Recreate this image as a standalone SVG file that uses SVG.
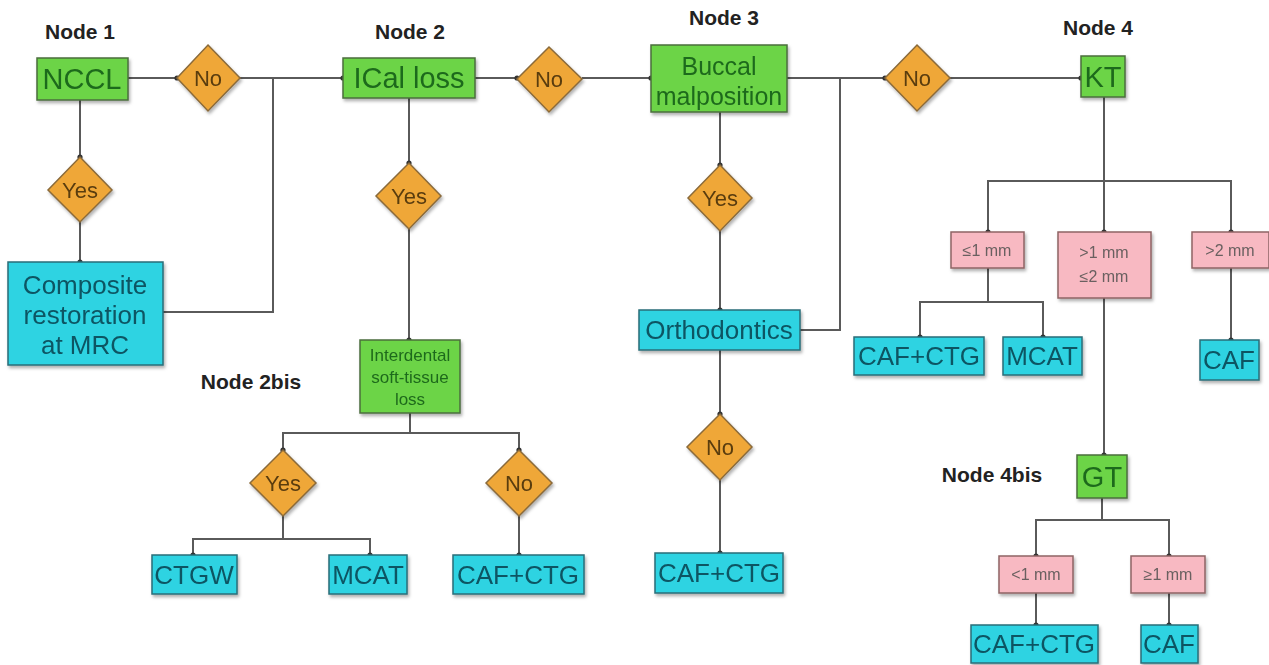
<svg xmlns="http://www.w3.org/2000/svg" width="1269" height="665" viewBox="0 0 1269 665">
<defs>
<style>
.g{fill:#6CD447;stroke:#4B6E3C;stroke-width:1.5}
.o{fill:#EFA738;stroke:#8A6A3A;stroke-width:1.5}
.c{fill:#2DD3E2;stroke:#2A6E78;stroke-width:1.5}
.p{fill:#F8B9C2;stroke:#8E6464;stroke-width:1.5}
.tg{fill:#1F6A1C;font-family:"Liberation Sans",Arial,sans-serif;text-anchor:middle}
.to{fill:#5A3D10;font-family:"Liberation Sans",Arial,sans-serif;font-size:22px;text-anchor:middle}
.tc{fill:#0E5563;font-family:"Liberation Sans",Arial,sans-serif;font-size:26px;text-anchor:middle}
.tp{fill:#6A6060;font-family:"Liberation Sans",Arial,sans-serif;font-size:16px;text-anchor:middle}
.lbl{fill:#222;font-family:"Liberation Sans",Arial,sans-serif;font-size:21px;font-weight:bold;text-anchor:middle}
.ln{fill:none;stroke:#5A5A5A;stroke-width:2;marker-end:url(#dot)}
.ln0{fill:none;stroke:#5A5A5A;stroke-width:2}
.sh{filter:url(#shadow)}
</style>
<marker id="dot" viewBox="0 0 6 6" refX="3" refY="3" markerWidth="3" markerHeight="3" markerUnits="strokeWidth"><circle cx="3" cy="3" r="2.6" fill="#333"/></marker>
<filter id="shadow" x="-10%" y="-10%" width="125%" height="130%"><feDropShadow dx="1.5" dy="2.5" stdDeviation="1.5" flood-color="#000" flood-opacity="0.3"/></filter>
</defs>
<rect width="1269" height="665" fill="#fff"/>

<g id="connectors">
<path class="ln" d="M128 78 H177"/>
<path class="ln" d="M240 78 H343"/>
<path class="ln0" d="M273 78 V312 H163"/>
<path class="ln" d="M80 100 V157"/>
<path class="ln" d="M80 222 V262"/>
<path class="ln" d="M475 78 H517"/>
<path class="ln" d="M582 78 H651"/>
<path class="ln" d="M409 98 V163"/>
<path class="ln" d="M409 229 V340"/>
<path class="ln0" d="M410 413 V433"/>
<path class="ln" d="M410 433 H283 V450"/>
<path class="ln" d="M410 433 H519 V450"/>
<path class="ln0" d="M283 516 V539"/>
<path class="ln" d="M283 539 H193 V555"/>
<path class="ln" d="M283 539 H370 V555"/>
<path class="ln" d="M519 516 V555"/>
<path class="ln" d="M787 78 H885"/>
<path class="ln0" d="M840 78 V330 H800"/>
<path class="ln" d="M950 78 H1081"/>
<path class="ln" d="M720 112 V165"/>
<path class="ln" d="M720 231 V310"/>
<path class="ln" d="M720 350 V414"/>
<path class="ln" d="M720 480 V553"/>
<path class="ln0" d="M1104 97 V181"/>
<path class="ln" d="M1104 181 H988 V232"/>
<path class="ln" d="M1104 181 V232"/>
<path class="ln" d="M1104 181 H1231 V232"/>
<path class="ln0" d="M988 268 V302"/>
<path class="ln" d="M988 302 H920 V337"/>
<path class="ln" d="M988 302 H1043 V337"/>
<path class="ln" d="M1231 268 V340"/>
<path class="ln" d="M1104 298 V455"/>
<path class="ln0" d="M1102 498 V520"/>
<path class="ln" d="M1102 520 H1036 V556"/>
<path class="ln" d="M1102 520 H1169 V556"/>
<path class="ln" d="M1036 593 V625"/>
<path class="ln" d="M1169 593 V625"/>
</g>

<g id="labels">
<text class="lbl" x="80" y="39">Node 1</text>
<text class="lbl" x="410" y="39">Node 2</text>
<text class="lbl" x="724" y="25">Node 3</text>
<text class="lbl" x="1098" y="35">Node 4</text>
<text class="lbl" x="251" y="389">Node 2bis</text>
<text class="lbl" x="992" y="482">Node 4bis</text>
</g>

<g id="n-nccl" class="sh"><rect class="g" x="37" y="58" width="91" height="42"/><text class="tg" x="82" y="89" font-size="29">NCCL</text></g>
<g id="n-no1" class="sh"><polygon class="o" points="208,45 240,78 208,111 177,78"/><text class="to" x="208" y="86">No</text></g>
<g id="n-yes1" class="sh"><polygon class="o" points="80,157 112,190 80,222 48,190"/><text class="to" x="80" y="198">Yes</text></g>
<g id="n-composite" class="sh"><rect class="c" x="8" y="262" width="155" height="103"/><text class="tc" x="85" y="294">Composite</text><text class="tc" x="85" y="324">restoration</text><text class="tc" x="85" y="354">at MRC</text></g>

<g id="n-ical" class="sh"><rect class="g" x="343" y="58" width="132" height="40"/><text class="tg" x="409" y="88" font-size="29">ICal loss</text></g>
<g id="n-no2" class="sh"><polygon class="o" points="549,47 582,79 549,112 517,79"/><text class="to" x="549" y="87">No</text></g>
<g id="n-yes2" class="sh"><polygon class="o" points="409,163 441,196 409,229 376,196"/><text class="to" x="409" y="204">Yes</text></g>
<g id="n-interdental" class="sh"><rect class="g" x="360" y="340" width="100" height="73"/><text class="tg" x="410" y="361" font-size="17">Interdental</text><text class="tg" x="410" y="383" font-size="17">soft-tissue</text><text class="tg" x="410" y="405" font-size="17">loss</text></g>
<g id="n-yes2b" class="sh"><polygon class="o" points="283,450 316,483 283,516 250,483"/><text class="to" x="283" y="491">Yes</text></g>
<g id="n-no2b" class="sh"><polygon class="o" points="519,450 552,483 519,516 486,483"/><text class="to" x="519" y="491">No</text></g>
<g id="n-ctgw" class="sh"><rect class="c" x="152" y="555" width="85" height="39"/><text class="tc" x="194" y="584">CTGW</text></g>
<g id="n-mcat1" class="sh"><rect class="c" x="329" y="555" width="78" height="39"/><text class="tc" x="368" y="584">MCAT</text></g>
<g id="n-cafctg1" class="sh"><rect class="c" x="453" y="555" width="131" height="39"/><text class="tc" x="518" y="584">CAF+CTG</text></g>

<g id="n-buccal" class="sh"><rect class="g" x="651" y="45" width="136" height="67"/><text class="tg" x="719" y="75" font-size="25">Buccal</text><text class="tg" x="719" y="105" font-size="25">malposition</text></g>
<g id="n-no3" class="sh"><polygon class="o" points="917,45 950,78 917,111 885,78"/><text class="to" x="917" y="86">No</text></g>
<g id="n-yes3" class="sh"><polygon class="o" points="720,165 752,198 720,231 688,198"/><text class="to" x="720" y="206">Yes</text></g>
<g id="n-ortho" class="sh"><rect class="c" x="639" y="310" width="161" height="40"/><text class="tc" x="719" y="339">Orthodontics</text></g>
<g id="n-no3b" class="sh"><polygon class="o" points="720,414 752,447 720,480 687,447"/><text class="to" x="720" y="455">No</text></g>
<g id="n-cafctg2" class="sh"><rect class="c" x="655" y="553" width="128" height="40"/><text class="tc" x="719" y="582">CAF+CTG</text></g>

<g id="n-kt" class="sh"><rect class="g" x="1081" y="56" width="44" height="41"/><text class="tg" x="1103" y="87" font-size="29">KT</text></g>
<g id="n-le1" class="sh"><rect class="p" x="951" y="232" width="73" height="36"/><text class="tp" x="987" y="256">≤1 mm</text></g>
<g id="n-gt1le2" class="sh"><rect class="p" x="1058" y="232" width="93" height="66"/><text class="tp" x="1104" y="258">&gt;1 mm</text><text class="tp" x="1104" y="282">≤2 mm</text></g>
<g id="n-gt2" class="sh"><rect class="p" x="1192" y="232" width="77" height="36"/><text class="tp" x="1230" y="256">&gt;2 mm</text></g>
<g id="n-cafctg3" class="sh"><rect class="c" x="854" y="337" width="130" height="38"/><text class="tc" x="919" y="365">CAF+CTG</text></g>
<g id="n-mcat2" class="sh"><rect class="c" x="1003" y="337" width="79" height="38"/><text class="tc" x="1042" y="365">MCAT</text></g>
<g id="n-caf1" class="sh"><rect class="c" x="1200" y="340" width="59" height="40"/><text class="tc" x="1229" y="369">CAF</text></g>
<g id="n-gt" class="sh"><rect class="g" x="1077" y="455" width="50" height="43"/><text class="tg" x="1102" y="487" font-size="29">GT</text></g>
<g id="n-lt1" class="sh"><rect class="p" x="999" y="556" width="74" height="37"/><text class="tp" x="1036" y="580">&lt;1 mm</text></g>
<g id="n-ge1" class="sh"><rect class="p" x="1131" y="556" width="74" height="37"/><text class="tp" x="1168" y="580">≥1 mm</text></g>
<g id="n-cafctg4" class="sh"><rect class="c" x="971" y="625" width="127" height="38"/><text class="tc" x="1034" y="653">CAF+CTG</text></g>
<g id="n-caf2" class="sh"><rect class="c" x="1141" y="625" width="57" height="38"/><text class="tc" x="1169" y="653">CAF</text></g>
</svg>
